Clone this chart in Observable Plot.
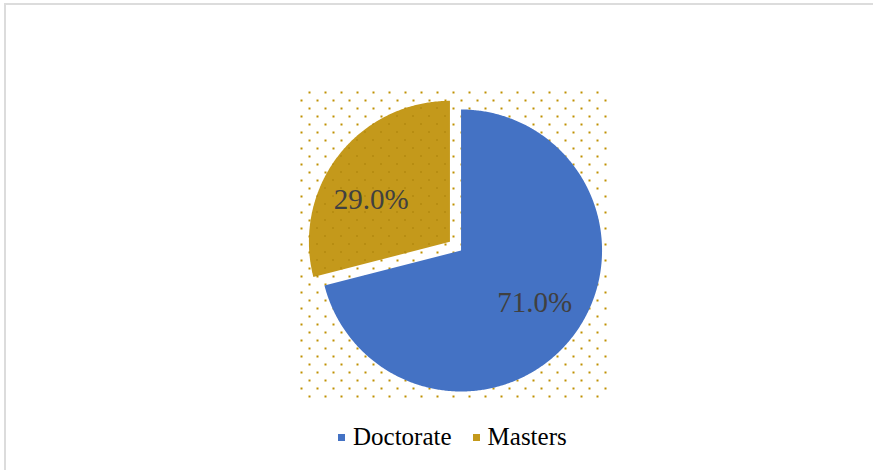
<!DOCTYPE html>
<html><head><meta charset="utf-8">
<script src="https://cdn.jsdelivr.net/npm/d3@7"></script>
<script src="https://cdn.jsdelivr.net/npm/@observablehq/plot@0.6"></script>
<style>
body{margin:0;background:#fff;width:873px;height:470px;overflow:hidden;position:relative;}
#border{position:absolute;left:4px;top:3px;width:900px;height:500px;border:2px solid #dcdcdc;box-sizing:border-box;}
#chart{position:absolute;left:0;top:0;}
#legend{position:absolute;top:424px;left:338px;font-family:'Liberation Serif';font-size:25px;line-height:25px;color:#000;white-space:nowrap;}
.sw{display:inline-block;width:7px;height:7px;margin-right:8px;vertical-align:middle;position:relative;top:-2px;}
.lab{font-family:'Liberation Serif';}
</style></head><body>
<div id="border"></div>
<div id="chart"></div>
<div id="legend"></div>
<script>
// ---- data ----
const categories = ["Doctorate", "Masters"];
const shares = [71.0, 29.0];
const labels = ["71.0%", "29.0%"];
const colors = ["#4472C4", "#C4991B"];
const exploded = [0, 0.1];   // explosion, in radii

// ---- geometry from data ----
const rows = categories.map((c, i) => ({category: c, share: shares[i], label: labels[i], color: colors[i], explode: exploded[i]}));
const arcs = d3.pie().sort(null).value(d => d.share)(rows);
const step = Math.PI / 360;
const pieX = 0.05, pieY = -0.046;   // pie centre offset in the plot area (radius units)
const slices = arcs.map(a => {
  const mid = (a.startAngle + a.endAngle) / 2;
  const cx = pieX + a.data.explode * Math.sin(mid), cy = pieY + a.data.explode * Math.cos(mid);
  const n = Math.ceil((a.endAngle - a.startAngle) / step);
  const pts = [{x: cx, y: cy}];
  for (let k = 0; k <= n; k++) {
    const t = a.startAngle + (a.endAngle - a.startAngle) * k / n;
    pts.push({x: cx + Math.sin(t), y: cy + Math.cos(t)});
  }
  pts.push({x: cx, y: cy});
  return {data: a.data, mid, cx, cy, pts};
});
const labelR = 0.635;
const nudges = [[3, -3], [-8, 13]];
const half = 155.5 / 141;

const marks = [Plot.frame({fill: "url(#dots)", stroke: "none"})];
slices.forEach(s => {
  marks.push(Plot.line(s.pts, {x: "x", y: "y", fill: s.data.color, stroke: "none", curve: "linear"}));
  if (s.data.explode > 0) marks.push(Plot.line(s.pts, {x: "x", y: "y", fill: "url(#dots2)", stroke: "none", curve: "linear"}));
});
slices.forEach((s, i) => {
  marks.push(Plot.text([s], {
    x: d => d.cx + labelR * Math.sin(d.mid),
    y: d => d.cy + labelR * Math.cos(d.mid),
    text: d => d.data.label,
    fill: "#404040", fontSize: 29, fontFamily: "Liberation Serif",
    dx: nudges[i][0], dy: nudges[i][1]
  }));
});

const chart = Plot.plot({
  width: 873, height: 416,
  marginLeft: 298, marginRight: 264, marginTop: 88, marginBottom: 17,
  x: {domain: [-half, half], axis: null},
  y: {domain: [-half, half], axis: null},
  style: {background: "transparent", overflow: "visible"},
  marks
});
const defs = document.createElementNS("http://www.w3.org/2000/svg", "defs");
defs.innerHTML =
  '<pattern id="dots" patternUnits="userSpaceOnUse" x="0" y="0" width="16" height="16">' +
  '<rect x="4" y="11" width="2" height="2" fill="#BF9000" shape-rendering="crispEdges"/><rect x="12" y="3" width="2" height="2" fill="#BF9000" shape-rendering="crispEdges"/></pattern>' +
  '<pattern id="dots2" patternUnits="userSpaceOnUse" x="-0.5" y="-0.5" width="16" height="16">' +
  '<rect x="4" y="11" width="2" height="2" fill="#9c7600" fill-opacity="0.35" shape-rendering="crispEdges"/><rect x="12" y="3" width="2" height="2" fill="#9c7600" fill-opacity="0.35" shape-rendering="crispEdges"/></pattern>';
chart.prepend(defs);
document.getElementById("chart").appendChild(chart);

// legend
const lg = document.getElementById("legend");
lg.innerHTML = rows.map((r, i) =>
  `<span class="sw" style="background:${r.color}${i > 0 ? ';margin-left:21px' : ''}"></span><span class="lab">${r.category}</span>`
).join("");
</script>
</body></html>
